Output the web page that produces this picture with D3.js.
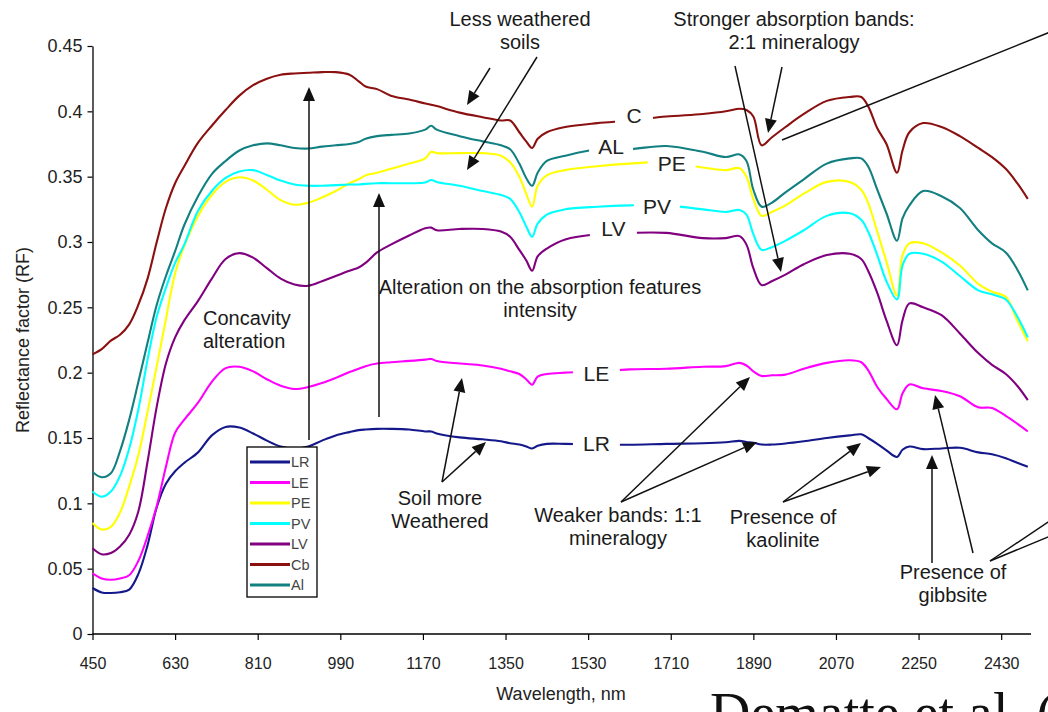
<!DOCTYPE html>
<html>
<head>
<meta charset="utf-8">
<script src="https://cdn.jsdelivr.net/npm/d3@7"></script>
<style>
  html, body { margin: 0; padding: 0; background: #fff; }
  svg { display: block; }
</style>
</head>
<body>
<svg id="chart" width="1048" height="712"></svg>
<script>
// Wavelength grid (nm) shared by every soil spectrum
const wavelengths = [450,470,490,510,530,550,570,590,610,630,650,680,710,740,770,800,830,860,890,920,
  950,980,1010,1030,1045,1070,1100,1140,1175,1188,1200,1250,1300,1340,1360,1380,1395,1408,1420,1440,
  1480,1550,1620,1700,1780,1830,1860,1875,1890,1908,1930,1960,2000,2050,2100,2125,2140,2160,2180,2203,
  2215,2230,2260,2300,2340,2380,2410,2440,2465,2488];

// Reflectance factor of each soil
const lrValues = [0.0352,0.0318,0.0314,0.032,0.034,0.046,0.068,0.097,0.115,0.1245,0.131,0.139,0.152,0.1585,0.158,
  0.1535,0.148,0.1435,0.142,0.1435,0.148,0.152,0.1545,0.156,0.1565,0.157,0.157,0.1565,0.155,0.155,
  0.1535,0.1505,0.149,0.1475,0.146,0.145,0.1435,0.142,0.144,0.1455,0.1455,0.145,0.1448,0.1455,0.146,
  0.1468,0.1478,0.147,0.1463,0.145,0.145,0.1458,0.1475,0.150,0.152,0.1528,0.150,0.1455,0.1405,0.1355,
  0.141,0.1435,0.1415,0.142,0.1425,0.139,0.1375,0.1345,0.131,0.128];
const leValues = [0.0464,0.0425,0.0415,0.0425,0.045,0.056,0.075,0.098,0.128,0.154,0.164,0.177,0.193,0.2035,0.2045,
  0.201,0.195,0.190,0.1875,0.189,0.192,0.196,0.2005,0.203,0.205,0.207,0.208,0.209,0.210,0.2105,
  0.209,0.207,0.2055,0.203,0.201,0.199,0.195,0.1908,0.197,0.199,0.200,0.201,0.2025,0.203,0.2045,
  0.205,0.2075,0.2055,0.201,0.1975,0.198,0.1985,0.203,0.2075,0.2095,0.208,0.202,0.189,0.180,0.172,
  0.184,0.191,0.188,0.186,0.182,0.1735,0.173,0.167,0.161,0.155];
const peValues = [0.085,0.080,0.082,0.093,0.113,0.137,0.170,0.205,0.241,0.276,0.297,0.320,0.336,0.346,0.3495,
  0.347,0.340,0.332,0.3285,0.330,0.334,0.339,0.345,0.348,0.351,0.353,0.356,0.360,0.364,0.369,
  0.368,0.368,0.368,0.366,0.361,0.350,0.337,0.327,0.343,0.351,0.355,0.358,0.360,0.361,0.357,
  0.355,0.3565,0.350,0.333,0.320,0.323,0.328,0.337,0.346,0.346,0.340,0.330,0.308,0.285,0.259,
  0.290,0.299,0.299,0.292,0.282,0.268,0.262,0.258,0.240,0.224];
const pvValues = [0.109,0.105,0.109,0.121,0.142,0.172,0.210,0.243,0.265,0.284,0.298,0.324,0.339,0.349,0.354,
  0.355,0.3513,0.347,0.344,0.343,0.343,0.3435,0.344,0.344,0.3445,0.345,0.345,0.345,0.3455,0.3475,
  0.346,0.343,0.339,0.336,0.333,0.323,0.312,0.304,0.314,0.321,0.325,0.327,0.328,0.328,0.325,
  0.323,0.3245,0.321,0.306,0.294,0.296,0.301,0.309,0.320,0.322,0.317,0.308,0.290,0.270,0.256,
  0.282,0.291,0.291,0.285,0.274,0.263,0.260,0.256,0.243,0.227];
const lvValues = [0.0656,0.061,0.062,0.067,0.076,0.094,0.132,0.174,0.207,0.227,0.240,0.255,0.272,0.287,0.2915,
  0.288,0.280,0.272,0.2675,0.2665,0.270,0.274,0.278,0.2805,0.284,0.292,0.298,0.305,0.3105,0.311,
  0.309,0.310,0.310,0.308,0.304,0.294,0.286,0.278,0.289,0.295,0.302,0.306,0.307,0.307,0.303,
  0.303,0.3045,0.298,0.280,0.267,0.270,0.275,0.283,0.290,0.291,0.287,0.278,0.261,0.240,0.221,
  0.240,0.253,0.250,0.244,0.230,0.215,0.206,0.199,0.190,0.179];
const cbValues = [0.214,0.218,0.2245,0.229,0.237,0.252,0.272,0.300,0.326,0.345,0.358,0.376,0.389,0.401,0.412,
  0.420,0.425,0.428,0.429,0.4295,0.430,0.430,0.428,0.423,0.419,0.417,0.412,0.409,0.406,0.405,
  0.404,0.399,0.3955,0.393,0.393,0.384,0.377,0.372,0.379,0.384,0.388,0.391,0.393,0.396,0.398,
  0.400,0.402,0.401,0.396,0.374,0.380,0.388,0.398,0.408,0.411,0.411,0.404,0.387,0.375,0.353,
  0.370,0.384,0.391,0.388,0.381,0.372,0.365,0.356,0.345,0.333];
const alValues = [0.124,0.120,0.123,0.140,0.164,0.193,0.223,0.252,0.274,0.293,0.313,0.335,0.352,0.362,0.370,
  0.374,0.3755,0.374,0.372,0.3715,0.373,0.374,0.375,0.3765,0.379,0.381,0.382,0.383,0.386,0.389,
  0.386,0.381,0.377,0.374,0.371,0.360,0.349,0.343,0.353,0.362,0.366,0.371,0.371,0.3735,0.369,
  0.365,0.367,0.362,0.340,0.327,0.330,0.338,0.348,0.360,0.364,0.364,0.358,0.340,0.322,0.301,
  0.318,0.328,0.339,0.335,0.326,0.309,0.299,0.292,0.279,0.263];

const seriesNames = ["LR", "LE", "PE", "PV", "LV", "Cb", "Al"];
const seriesColors = ["#14188a", "#ff00ff", "#ffff00", "#00ffff", "#800080", "#8b1010", "#128080"];
const seriesValues = [lrValues, leValues, peValues, pvValues, lvValues, cbValues, alValues];

const xTickValues = [450,630,810,990,1170,1350,1530,1710,1890,2070,2250,2430];
const yTickValues = [0,0.05,0.1,0.15,0.2,0.25,0.3,0.35,0.4,0.45];
const yTickLabels = ["0","0.05","0.1","0.15","0.2","0.25","0.3","0.35","0.4","0.45"];

// In-plot series tags: [text, wavelength, reflectance, gap width]
const curveTags = [
  ["C", 1630, 0.397, 38],
  ["AL", 1580, 0.373, 44],
  ["PE", 1712, 0.360, 48],
  ["PV", 1680, 0.327, 46],
  ["LV", 1585, 0.310, 47],
  ["LE", 1548, 0.1995, 47],
  ["LR", 1548, 0.1455, 47]
];

const svg = d3.select("#chart");
const W = 1048, H = 712;
svg.append("rect").attr("width", W).attr("height", H).attr("fill", "#fff");

const x = d3.scaleLinear().domain([450, 2500]).range([92.5, 1033.3]);
const y = d3.scaleLinear().domain([0, 0.45]).range([634, 46]);

const sans = "'Liberation Sans', Arial, Helvetica, sans-serif";
const narrow = "'Liberation Sans Narrow', 'Liberation Sans', Arial, sans-serif";

// Axes
const xAxis = d3.axisBottom(x).tickValues(xTickValues).tickSize(6).tickSizeOuter(0).tickFormat(d3.format("d"));
const gx = svg.append("g").attr("transform", `translate(0,${y(0)})`).call(xAxis);
gx.select(".domain").attr("d", `M${x(450)},0H1031`).attr("stroke", "#000").attr("stroke-width", 1.3);
gx.selectAll(".tick line").attr("stroke", "#000").attr("stroke-width", 1.2);
gx.selectAll(".tick text").attr("font-family", narrow).attr("font-size", 16).attr("fill", "#222").attr("dy", "1.6em");

const yAxis = d3.axisLeft(y).tickValues(yTickValues).tickSize(5).tickSizeOuter(0)
  .tickFormat((d, i) => yTickLabels[i]);
const gy = svg.append("g").attr("transform", `translate(${x(450)},0)`).call(yAxis);
gy.select(".domain").attr("stroke", "#000").attr("stroke-width", 1.3);
gy.selectAll(".tick line").attr("stroke", "#000").attr("stroke-width", 1.2);
gy.selectAll(".tick text").attr("font-family", sans).attr("font-size", 18).attr("fill", "#222").attr("x", -10);

svg.append("text").attr("transform", "translate(24,340) rotate(-90)")
  .attr("text-anchor", "middle").attr("dominant-baseline", "middle")
  .attr("font-family", sans).attr("font-size", 18).attr("fill", "#222")
  .text("Reflectance factor (RF)");
svg.append("text").attr("x", 561).attr("y", 695)
  .attr("text-anchor", "middle").attr("dominant-baseline", "middle")
  .attr("font-family", sans).attr("font-size", 18).attr("fill", "#222")
  .text("Wavelength, nm");

// Spectra
const line = d3.line()
  .x((d, i) => x(wavelengths[i]))
  .y(d => y(d))
  .curve(d3.curveCatmullRom.alpha(0.5));

svg.append("g").selectAll("path").data(seriesValues).join("path")
  .attr("d", d => line(d))
  .attr("fill", "none")
  .attr("stroke", (d, i) => seriesColors[i])
  .attr("stroke-width", 2.1)
  .attr("stroke-linejoin", "round");

// Series tags on the curves, each on a white patch that breaks the line
const tagG = svg.append("g");
curveTags.forEach(([t, wl, rf, gw]) => {
  const cx = x(wl), cy = y(rf);
  tagG.append("rect").attr("x", cx - gw / 2).attr("y", cy - 12).attr("width", gw).attr("height", 24).attr("fill", "#fff");
  tagG.append("text").attr("x", cx).attr("y", cy).attr("text-anchor", "middle").attr("dominant-baseline", "central")
    .attr("font-family", sans).attr("font-size", 21).attr("fill", "#222").text(t);
});

// Legend
const lg = svg.append("g");
lg.append("rect").attr("x", 247).attr("y", 447).attr("width", 70).attr("height", 150)
  .attr("fill", "#fff").attr("stroke", "#000").attr("stroke-width", 1.3);
seriesNames.forEach((n, i) => {
  const ly = 462 + i * 20.5;
  lg.append("line").attr("x1", 250).attr("x2", 290).attr("y1", ly).attr("y2", ly)
    .attr("stroke", seriesColors[i]).attr("stroke-width", 3);
  lg.append("text").attr("x", 291).attr("y", ly).attr("dominant-baseline", "central")
    .attr("font-family", sans).attr("font-size", 14.5).attr("fill", "#444").text(n);
});

// Callouts
const ann = svg.append("g");
function arrow(x1, y1, x2, y2, head = true) {
  const dx = x2 - x1, dy = y2 - y1, len = Math.hypot(dx, dy);
  const ux = dx / len, uy = dy / len;
  const hl = 14, hw = 6;
  const ex = head ? x2 - ux * hl : x2, ey = head ? y2 - uy * hl : y2;
  ann.append("line").attr("x1", x1).attr("y1", y1).attr("x2", ex).attr("y2", ey)
    .attr("stroke", "#111").attr("stroke-width", 1.5);
  if (head) {
    ann.append("path")
      .attr("d", `M${x2},${y2}L${ex - uy * hw},${ey + ux * hw}L${ex + uy * hw},${ey - ux * hw}Z`)
      .attr("fill", "#111");
  }
}
function label(lines, cx, cy, anchor = "middle") {
  lines.forEach((t, i) => {
    ann.append("text").attr("x", cx).attr("y", cy + i * 23).attr("text-anchor", anchor)
      .attr("dominant-baseline", "central").attr("font-family", sans).attr("font-size", 20)
      .attr("fill", "#1a1a1a").text(t);
  });
}

label(["Less weathered", "soils"], 520, 19);
arrow(490, 68, 467, 105);
arrow(537, 57, 467, 170);

label(["Stronger absorption bands:", "2:1 mineralogy"], 794, 19);
arrow(735, 66, 781, 272);
arrow(782, 67, 768, 133);
arrow(1070, 24, 782, 140, false);

label(["Concavity", "alteration"], 203, 318, "start");
arrow(309, 440, 309, 87);
arrow(379, 417, 379, 193);
label(["Alteration on the absorption features", "intensity"], 540, 287);

label(["Soil more", "Weathered"], 440, 498);
arrow(442, 482, 462, 378);
arrow(442, 482, 486, 442);

label(["Weaker bands: 1:1", "mineralogy"], 618, 515);
arrow(621, 502, 750, 377);
arrow(621, 502, 757, 442);

label(["Presence of", "kaolinite"], 783, 517);
arrow(783, 502, 861, 443);
arrow(783, 502, 881, 467);

label(["Presence of", "gibbsite"], 953, 572);
arrow(932, 563, 932, 455);
arrow(973, 553, 935, 395);
arrow(990, 561, 1060, 514, false);
arrow(990, 561, 1060, 532, false);

// Source line
svg.append("text").attr("x", 710).attr("y", 732)
  .attr("font-family", "'Liberation Serif', 'Times New Roman', serif").attr("font-size", 56)
  .attr("fill", "#111").text("Dematte et al. (2004)");
</script>
</body>
</html>
